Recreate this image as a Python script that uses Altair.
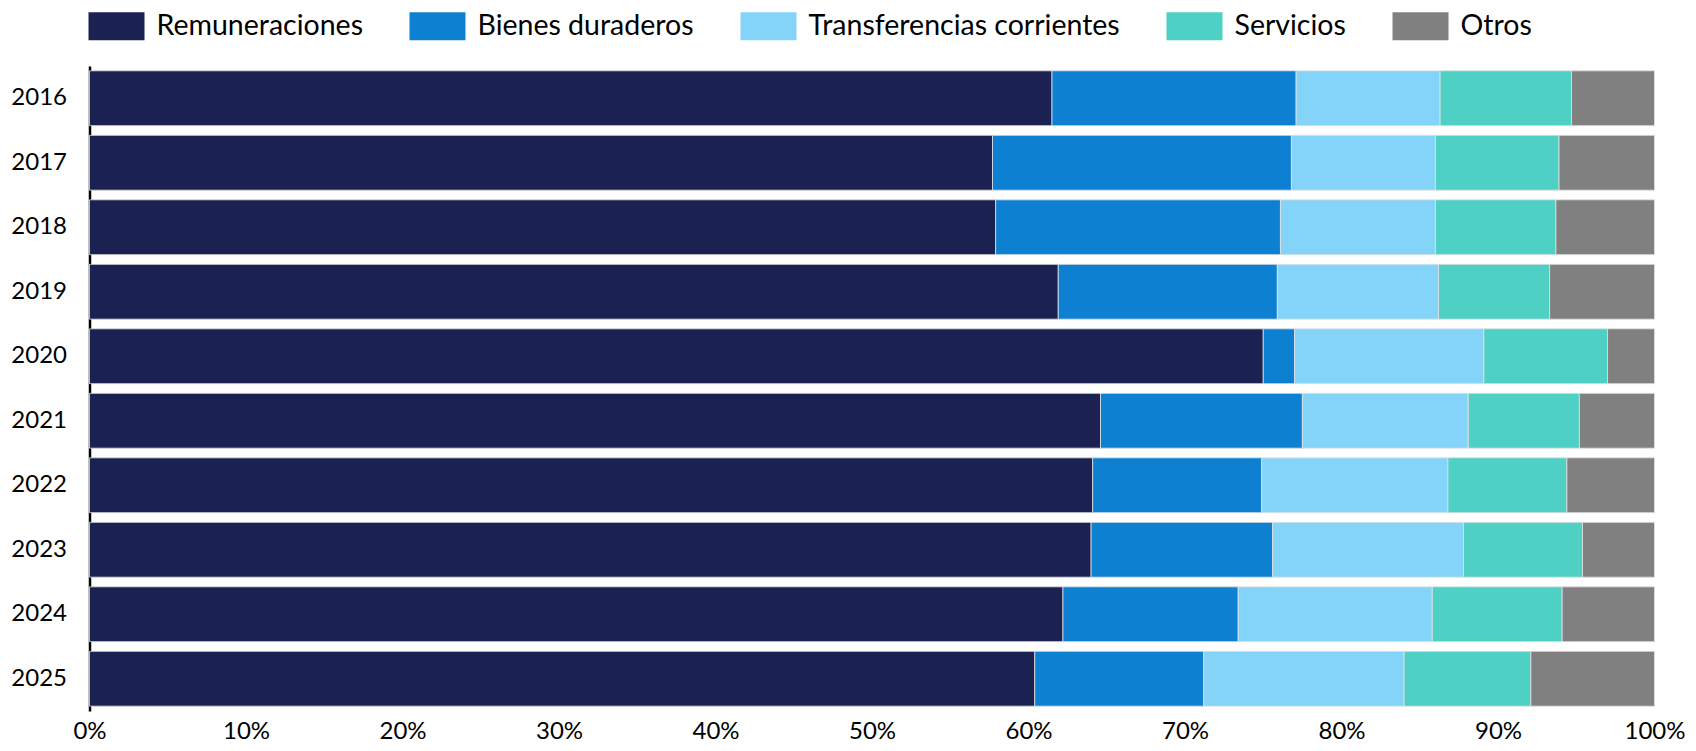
import altair as alt
import pandas as pd

years = ["2016", "2017", "2018", "2019", "2020", "2021", "2022", "2023", "2024", "2025"]
categories = ["Remuneraciones", "Bienes duraderos", "Transferencias corrientes", "Servicios", "Otros"]
colors = ["#1b2151", "#0e80d2", "#83d4f8", "#4ed0c4", "#808080"]

remuneraciones = [61.5, 57.7, 57.9, 61.9, 75.0, 64.6, 64.1, 64.0, 62.2, 60.4]
bienes = [15.6, 19.1, 18.2, 14.0, 2.0, 12.9, 10.8, 11.6, 11.2, 10.8]
transferencias = [9.2, 9.2, 9.9, 10.3, 12.1, 10.6, 11.9, 12.2, 12.4, 12.8]
servicios = [8.4, 7.9, 7.7, 7.1, 7.9, 7.1, 7.6, 7.6, 8.3, 8.1]
otros = [5.3, 6.1, 6.3, 6.7, 3.0, 4.8, 5.6, 4.6, 5.9, 7.9]

series = [remuneraciones, bienes, transferencias, servicios, otros]
rows = []
for ci, (cat, vals) in enumerate(zip(categories, series)):
    for y, v in zip(years, vals):
        rows.append({"year": y, "cat": cat, "idx": ci, "value": v})
df = pd.DataFrame(rows)

chart = alt.Chart(df).mark_bar(stroke="#e2e2e2", strokeWidth=0.8).encode(
    y=alt.Y("year:N", sort=years, title=None,
            scale=alt.Scale(paddingInner=0.15, paddingOuter=0.075),
            axis=alt.Axis(ticks=False, domain=True, domainColor="#000000", domainWidth=2.5,
                          labelFont="Lato", labelFontSize=24, labelColor="#000000",
                          labelPadding=23, grid=False)),
    x=alt.X("value:Q", stack="normalize", title=None,
            scale=alt.Scale(domain=[0, 1], nice=False),
            axis=alt.Axis(values=[i / 10 for i in range(11)], format=".0%", ticks=False,
                          domain=False, grid=False, labelFont="Lato", labelFontSize=24,
                          labelColor="#000000", labelPadding=8, labelFlush=False)),
    color=alt.Color("cat:N", sort=categories, title=None,
                    scale=alt.Scale(domain=categories, range=colors),
                    legend=alt.Legend(orient="none", legendX=-1, legendY=-68, direction="horizontal",
                                      columns=5, symbolType="M-1,-0.5h2v1h-2Z", symbolSize=3136,
                                      symbolStrokeWidth=0, symbolOpacity=1,
                                      labelFont="Lato", labelFontSize=28.5, labelColor="#000000",
                                      labelOffset=12, columnPadding=46, labelLimit=600)),
    order=alt.Order("idx:Q"),
).properties(
    width=1565, height=645,
    autosize=alt.AutoSizeParams(type="none"),
    padding={"left": 81.5, "top": 58, "right": 33.5, "bottom": 32},
).configure_view(stroke=None)

chart.save("out.html", embed_options={"renderer": "svg", "actions": False})
